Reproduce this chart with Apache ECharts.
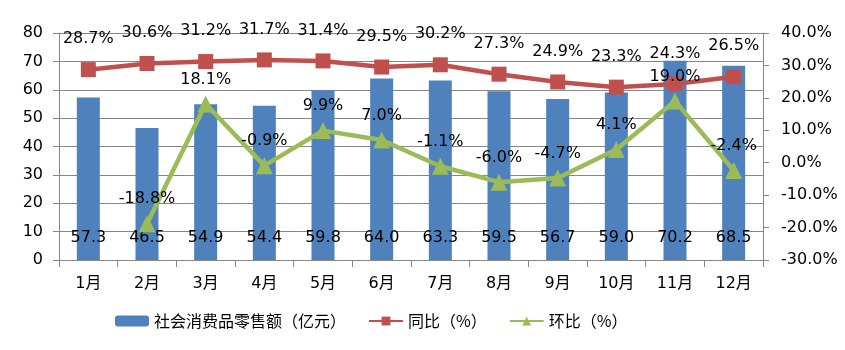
<!DOCTYPE html>
<html>
<head>
<meta charset="utf-8">
<script src="https://cdn.jsdelivr.net/npm/echarts@6/dist/echarts.min.js"></script>
<style>html,body{margin:0;padding:0;background:#fff}#c{width:845px;height:350px}</style>
</head>
<body>
<div id="c"></div>
<script>
var categories = ['1月','2月','3月','4月','5月','6月','7月','8月','9月','10月','11月','12月'];
var retailSales = [57.3, 46.5, 54.9, 54.4, 59.8, 64.0, 63.3, 59.5, 56.7, 59.0, 70.2, 68.5];
var yoy = [28.7, 30.6, 31.2, 31.7, 31.4, 29.5, 30.2, 27.3, 24.9, 23.3, 24.3, 26.5];
var mom = [null, -18.8, 18.1, -0.9, 9.9, 7.0, -1.1, -6.0, -4.7, 4.1, 19.0, -2.4];
var seriesNames = ['社会消费品零售额（亿元）', '同比（%）', '环比（%）'];

var FONT = 'DejaVu Sans, Noto Sans CJK SC, sans-serif';
var chart = echarts.init(document.getElementById('c'));
chart.setOption({
  animation: false,
  textStyle: { fontFamily: FONT, color: '#000' },
  grid: { left: 59, right: 82, top: 33, bottom: 90 },
  legend: {
    left: 110, top: 308,
    itemWidth: 34, itemHeight: 11, itemGap: 22,
    textStyle: { fontSize: 16, color: '#000', fontFamily: 'Noto Sans CJK SC, sans-serif' },
    data: seriesNames
  },
  xAxis: {
    type: 'category', data: categories, boundaryGap: true,
    axisLine: { lineStyle: { color: '#868686', width: 1 } },
    axisTick: { show: true, length: 7, lineStyle: { color: '#868686' } },
    axisLabel: { fontSize: 16, color: '#000', margin: 16 }
  },
  yAxis: [
    { type: 'value', min: 0, max: 80, interval: 10,
      axisLine: { show: true, lineStyle: { color: '#868686' } },
      axisTick: { show: true, length: 6, lineStyle: { color: '#868686' } },
      splitLine: { lineStyle: { color: '#868686', width: 1 } },
      axisLabel: { fontSize: 16, color: '#000', margin: 16 } },
    { type: 'value', min: -30, max: 40, interval: 10,
      axisLine: { show: true, lineStyle: { color: '#868686' } },
      axisTick: { show: true, length: 6, lineStyle: { color: '#868686' } },
      splitLine: { show: false },
      axisLabel: { fontSize: 16, color: '#000', margin: 18,
        formatter: function (v) { return v.toFixed(1) + '%'; } } }
  ],
  series: [
    { name: seriesNames[0], type: 'bar', data: retailSales, barWidth: 23,
      itemStyle: { color: '#4F81BD' },
      label: { show: true, position: 'insideBottom', distance: 14, fontSize: 16, color: '#000',
        formatter: function (p) { return p.value.toFixed(1); } } },
    { name: seriesNames[1], type: 'line', yAxisIndex: 1, data: yoy,
      symbol: 'rect', symbolSize: 15,
      lineStyle: { color: '#C0504D', width: 4.5 },
      itemStyle: { color: '#C0504D' },
      label: { show: true, position: 'top', distance: 15, fontSize: 16, color: '#000',
        formatter: function (p) { return p.value.toFixed(1) + '%'; } } },
    { name: seriesNames[2], type: 'line', yAxisIndex: 1, data: mom,
      symbol: 'triangle', symbolSize: 17, connectNulls: false,
      lineStyle: { color: '#9BBB59', width: 4.5 },
      itemStyle: { color: '#9BBB59' },
      label: { show: true, position: 'top', distance: 8, fontSize: 16, color: '#000',
        formatter: function (p) { return p.value.toFixed(1) + '%'; } } }
  ]
});
</script>
</body>
</html>
